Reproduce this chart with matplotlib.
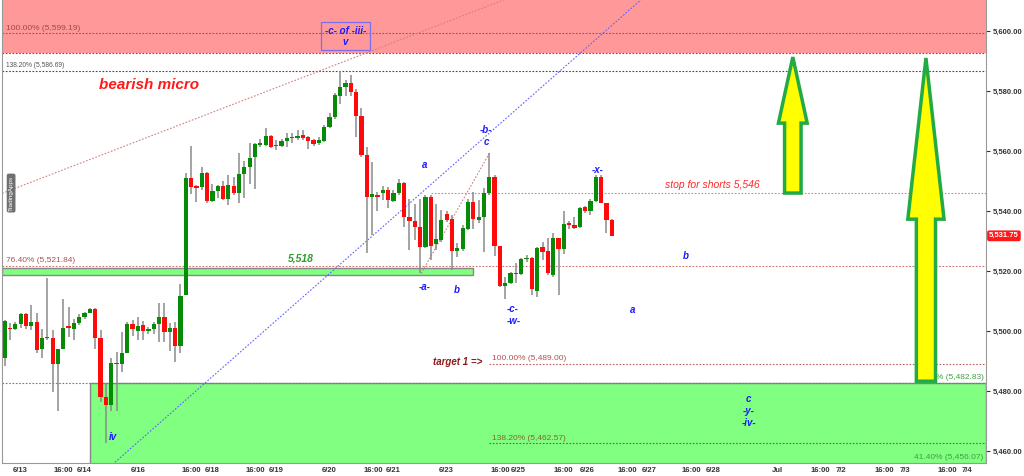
import numpy as np
import matplotlib
matplotlib.use("Agg")
import matplotlib.pyplot as plt
from matplotlib.patches import Rectangle, Polygon

plt.rcParams['font.family'] = ['Liberation Sans', 'DejaVu Sans']

# 2h candles (open, high, low, close)
opens = [5491.2, 5501.0, 5500.7, 5502.3, 5505.7, 5501.7, 5503.0, 5493.9, 5497.6, 5497.6,
         5489.2, 5494.2, 5501.7, 5500.6, 5502.6, 5504.6, 5506.1, 5507.2, 5497.6, 5478.1,
         5475.3, 5489.4, 5489.0, 5492.8, 5502.3, 5500.1, 5502.0, 5500.1, 5500.6, 5502.3,
         5504.6, 5499.7, 5501.2, 5495.0, 5512.0, 5550.9, 5548.0, 5548.1, 5552.8, 5543.4,
         5546.7, 5548.3, 5544.0, 5548.3, 5546.1, 5552.3, 5554.6, 5557.9, 5562.0, 5562.0,
         5565.0, 5561.6, 5561.7, 5563.4, 5564.2, 5564.2, 5565.3, 5564.6, 5563.7, 5562.6,
         5563.3, 5567.9, 5571.2, 5578.3, 5581.2, 5582.8, 5579.8, 5571.7, 5558.7, 5544.8,
         5545.3, 5545.9, 5547.0, 5543.4, 5545.9, 5549.4, 5538.1, 5536.8, 5534.6, 5527.9,
         5544.8, 5529.0, 5530.3, 5539.0, 5537.2, 5526.8, 5527.2, 5533.9, 5543.1, 5537.0,
         5537.9, 5545.9, 5551.4, 5528.3, 5515.0, 5515.9, 5519.4, 5519.0, 5524.0, 5524.2,
         5513.4, 5527.9, 5526.8, 5518.7, 5530.9, 5527.2, 5535.9, 5535.3, 5534.6, 5541.2,
         5540.1, 5543.4, 5551.4, 5542.8, 5537.0]
highs = [5503.7, 5502.6, 5503.1, 5506.1, 5506.1, 5508.7, 5505.9, 5500.6, 5517.6, 5500.3,
         5493.9, 5510.6, 5507.9, 5503.9, 5505.7, 5506.4, 5507.6, 5507.6, 5500.3, 5482.6,
         5490.9, 5493.1, 5499.8, 5503.1, 5503.7, 5504.6, 5503.3, 5501.4, 5503.1, 5509.4,
         5509.2, 5502.6, 5503.1, 5515.6, 5552.6, 5561.7, 5548.7, 5554.8, 5553.1, 5549.0,
         5548.7, 5550.1, 5552.0, 5551.4, 5559.2, 5556.8, 5562.8, 5562.8, 5563.9, 5567.6,
         5565.3, 5563.7, 5563.9, 5565.9, 5565.9, 5567.0, 5567.0, 5565.0, 5563.9, 5564.6,
         5568.7, 5572.8, 5579.2, 5586.7, 5583.7, 5585.3, 5580.6, 5574.2, 5561.2, 5556.4,
         5546.4, 5548.3, 5548.1, 5547.0, 5550.6, 5549.8, 5543.9, 5542.3, 5543.9, 5545.3,
         5545.3, 5542.3, 5540.3, 5540.1, 5538.7, 5529.2, 5535.3, 5543.9, 5546.4, 5543.7,
         5547.6, 5559.2, 5552.0, 5528.3, 5517.9, 5519.8, 5522.6, 5524.2, 5525.3, 5524.8,
         5527.9, 5529.8, 5530.9, 5532.8, 5530.9, 5540.1, 5536.8, 5538.1, 5541.2, 5541.7,
         5543.9, 5552.0, 5552.0, 5542.8, 5537.2]
lows = [5488.4, 5497.0, 5500.3, 5500.9, 5500.6, 5500.3, 5492.8, 5490.9, 5497.0, 5479.8,
        5473.4, 5493.9, 5498.1, 5497.0, 5502.0, 5503.9, 5505.9, 5494.2, 5476.4, 5462.7,
        5473.4, 5473.4, 5486.4, 5492.6, 5498.3, 5497.0, 5497.0, 5499.2, 5499.2, 5496.4,
        5496.4, 5493.3, 5489.8, 5492.8, 5512.0, 5545.7, 5543.1, 5547.0, 5542.6, 5543.1,
        5544.2, 5543.7, 5542.0, 5545.3, 5542.8, 5544.2, 5549.0, 5547.2, 5561.2, 5561.7,
        5560.9, 5560.3, 5561.2, 5561.2, 5562.6, 5563.7, 5563.7, 5560.6, 5561.7, 5562.0,
        5563.1, 5567.6, 5570.6, 5575.7, 5578.3, 5578.3, 5564.6, 5558.1, 5526.1, 5532.0,
        5540.1, 5543.7, 5540.9, 5543.1, 5545.3, 5534.6, 5527.0, 5530.3, 5519.2, 5527.6,
        5523.7, 5527.0, 5529.8, 5536.4, 5520.3, 5524.8, 5526.8, 5533.7, 5533.9, 5536.1,
        5526.4, 5545.3, 5525.0, 5514.8, 5510.6, 5515.7, 5515.9, 5518.7, 5523.1, 5512.0,
        5511.4, 5523.7, 5518.7, 5518.1, 5512.0, 5525.7, 5533.9, 5533.9, 5534.2, 5539.2,
        5538.7, 5543.1, 5542.8, 5532.8, 5531.6]
closes = [5503.4, 5500.7, 5502.3, 5505.7, 5501.7, 5503.0, 5493.7, 5497.6, 5497.7, 5489.2,
          5493.9, 5501.2, 5501.2, 5502.8, 5504.8, 5506.1, 5507.2, 5497.6, 5478.1, 5475.3,
          5489.4, 5489.1, 5492.8, 5502.3, 5500.6, 5501.7, 5500.1, 5500.6, 5502.3, 5504.6,
          5499.6, 5501.2, 5495.0, 5511.7, 5550.9, 5547.9, 5547.8, 5552.8, 5543.4, 5546.7,
          5548.3, 5544.0, 5548.7, 5545.9, 5552.3, 5554.8, 5557.6, 5562.3, 5562.6, 5565.0,
          5561.4, 5561.7, 5563.3, 5564.2, 5564.4, 5565.0, 5564.2, 5563.4, 5562.3, 5563.7,
          5567.9, 5571.4, 5578.6, 5581.2, 5582.8, 5579.8, 5571.7, 5558.7, 5544.8, 5545.7,
          5544.6, 5547.0, 5543.7, 5545.9, 5549.4, 5538.1, 5536.8, 5534.8, 5527.9, 5544.6,
          5528.3, 5530.6, 5537.0, 5537.0, 5526.8, 5527.6, 5534.2, 5543.1, 5537.2, 5538.1,
          5545.9, 5551.4, 5528.3, 5515.0, 5515.9, 5519.4, 5519.0, 5523.9, 5524.2, 5513.9,
          5527.6, 5526.4, 5519.2, 5530.9, 5527.2, 5535.7, 5535.3, 5534.2, 5540.9, 5540.1,
          5543.4, 5551.4, 5542.8, 5537.0, 5531.75]

tick_pos = [3, 11, 15, 25, 35, 39, 47, 51, 61, 69.2, 73, 83, 93, 96.4, 104.9, 109.3,
            117, 121.1, 129, 133.1, 145.1, 153.2, 157, 165.2, 169, 177, 180.7]
tick_lbl = ['6/13', '16:00', '6/14', '6/16', '16:00', '6/18', '16:00', '6/19', '6/20',
            '16:00', '6/21', '6/23', '16:00', '6/25', '16:00', '6/26', '16:00', '6/27',
            '16:00', '6/28', 'Jul', '16:00', '7/2', '16:00', '7/3', '16:00', '7/4']

# levels
red_zone_low = 5592.7
fib_top = 5599.19
fib_1382 = 5586.69
fib_764 = 5521.84
band_lo, band_hi = 5518.6, 5520.9
stop = 5546.0
target1 = 5489.00
fib_1382b = 5462.57
fib_382 = 5482.83
fib_414 = 5456.07
last = 5531.75

ylo, yhi = 5456.0, 5610.33
xlo, xhi = -0.5, 184.3

fig = plt.figure(figsize=(10.24, 4.76), dpi=100)
ax = fig.add_axes([0.002, 0.027, 0.961, 0.973])
ax.set_xlim(xlo, xhi)
ax.set_ylim(ylo, yhi)

# zones
ax.add_patch(Rectangle((xlo, red_zone_low), xhi - xlo, yhi - red_zone_low,
                       facecolor='#ff9999', edgecolor='none', zorder=0))
ax.axhline(red_zone_low, color='#555555', ls=(0, (1.5, 1.5)), lw=0.8, zorder=1)
ax.add_patch(Rectangle((16.0, ylo - 5), xhi - 16.0, fib_382 - ylo + 5,
                       facecolor='#80ff80', edgecolor='#888888', lw=1.0, zorder=0))
ax.add_patch(Rectangle((xlo, band_lo), 88.0 - xlo, band_hi - band_lo,
                       facecolor='#80ff80', edgecolor='#888888', lw=1.0, zorder=1))

# horizontal fib / level lines
dot = (0, (1.5, 1.5))
ax.axhline(fib_top, color='#a05050', ls=dot, lw=0.8, zorder=1)
ax.axhline(fib_1382, color='#444444', ls=dot, lw=0.8, zorder=1)
ax.axhline(fib_764, color='#d07070', ls=dot, lw=0.8, zorder=1)
ax.axhline(fib_382, color='#40a040', ls=dot, lw=0.8, zorder=1)
ax.hlines(stop, 80.1, xhi, color='#e08080', ls=dot, lw=0.8, zorder=1)
ax.hlines(target1, 90.9, xhi, color='#c06060', ls=dot, lw=0.8, zorder=1)
ax.hlines(fib_1382b, 90.9, xhi, color='#806030', ls=dot, lw=0.8, zorder=1)

# trend lines
tx = np.array([xlo, 230.0])
ax.plot(tx, 5545.9 + (tx - xlo) * 0.684, color='#d08080', ls=dot, lw=0.8, zorder=1)
bx = np.array([20.7, 125.0])
ax.plot(bx, 5456.3 + (bx - 20.7) * 1.56, color='#6060ff', ls=dot, lw=0.8, zorder=1)
ax.plot([78.2, 91.0], [5519.2, 5559.2], color='#d08080', ls=dot, lw=0.8, zorder=1)

# candles
idx = np.arange(len(opens))
o = np.array(opens); c = np.array(closes)
up = c >= o
ax.vlines(idx, lows, highs, color='#8a8a8a', lw=1.1, zorder=2)
bottom = np.minimum(o, c)
height = np.maximum(np.abs(c - o), 0.4)
ax.bar(idx, height, bottom=bottom, width=0.8,
       color=np.where(up, '#078a07', '#ff0a0a'), edgecolor='none', zorder=3)

# arrows
def up_arrow(xc, sw, hw, tip, base, foot):
    pts = [(xc - sw, foot), (xc - sw, base), (xc - hw, base), (xc, tip),
           (xc + hw, base), (xc + sw, base), (xc + sw, foot)]
    ax.add_patch(Polygon(pts, closed=True, facecolor='#ffff00', edgecolor='#22aa44',
                         lw=2.5, joinstyle='miter', zorder=4))

up_arrow(148.0, 1.55, 2.7, 5591.3, 5569.3, stop)
up_arrow(173.0, 1.8, 3.4, 5591.0, 5537.3, 5483.3)

# level labels
lab = dict(fontsize=6, zorder=3.5)
ax.text(0.3, fib_top + 0.6, '100.00% (5,599.19)', color='#a04848', va='bottom', **lab)
ax.text(0.3, fib_1382 + 0.5, '138.20% (5,586.69)', color='#555555', va='bottom',
        fontsize=4.8, zorder=3.5)
ax.text(0.3, fib_764 + 0.6, '76.40% (5,521.84)', color='#b05050', va='bottom', **lab)
ax.text(91.5, target1 + 0.6, '100.00% (5,489.00)', color='#b05050', va='bottom', **lab)
ax.text(91.5, fib_1382b + 0.6, '138.20% (5,462.57)', color='#7a6a30', va='bottom', **lab)
ax.text(183.8, fib_382 + 0.6, '38.20% (5,482.83)', color='#40a040', va='bottom',
        ha='right', **lab)
ax.text(183.8, fib_414 + 0.8, '41.40% (5,456.07)', color='#40a040', va='bottom',
        ha='right', **lab)

ax.text(27.2, 5582.0, 'bearish micro', color='#ff1a1a', fontsize=11,
        fontweight='bold', style='italic', ha='center', va='center', zorder=5)
ax.text(55.7, 5524.3, '5,518', color='#2e9a2e', fontsize=7.5, fontweight='bold',
        style='italic', ha='center', va='center', zorder=5)
ax.text(132.9, 5548.7, 'stop for shorts 5,546', color='#ff2a2a', fontsize=7.5,
        style='italic', ha='center', va='center', zorder=5)
ax.text(85.1, 5489.7, 'target 1 =>', color='#8b1a1a', fontsize=7, fontweight='bold',
        style='italic', ha='center', va='center', zorder=5)

# wave labels
wave = dict(color='#1a1aff', fontsize=7, fontweight='bold', style='italic',
            ha='center', va='center', zorder=5)
ax.text(64.0, 5598.3, '-c- of -iii-\nv', linespacing=1.1,
        bbox=dict(boxstyle='square,pad=0.35', facecolor='none', edgecolor='#7b6cf0', lw=0.9),
        **wave)
for x, y, s in [(20.3, 5464.7, 'iv'), (78.9, 5555.3, 'a'), (90.4, 5567.0, '-b-'),
                (90.4, 5563.0, 'c'), (78.8, 5514.7, '-a-'), (84.9, 5513.7, 'b'),
                (95.4, 5507.3, '-c-'), (95.6, 5503.3, '-w-'), (111.4, 5553.7, '-x-'),
                (117.9, 5507.0, 'a'), (127.9, 5525.0, 'b'), (139.7, 5477.3, 'c'),
                (139.7, 5473.3, '-y-'), (139.7, 5469.3, '-iv-')]:
    ax.text(x, y, s, **wave)

# watermark
ax.text(1.2, 5546.0, 'TradingApps', rotation=90, color='white', fontsize=4.5,
        ha='center', va='center', zorder=6,
        bbox=dict(boxstyle='round,pad=0.3', facecolor='#707070', edgecolor='none'))

# axes styling
ax.yaxis.tick_right()
ax.set_yticks(np.arange(5460, 5601, 20))
ax.set_yticklabels(['{:,.2f}'.format(v) for v in np.arange(5460, 5601, 20)])
ax.tick_params(axis='y', labelsize=5.5, colors='#333333', length=3, pad=1.5)
for t in ax.get_yticklabels():
    t.set_fontweight('bold')
ax.set_xticks(tick_pos)
ax.set_xticklabels(tick_lbl)
ax.tick_params(axis='x', labelsize=5.5, colors='#333333', length=0, pad=3)
for t in ax.get_xticklabels():
    t.set_fontweight('bold')
for s in ['left', 'right', 'bottom']:
    ax.spines[s].set_color('#999999')
ax.spines['top'].set_visible(False)

ax.text(1.003, last, '5,531.75', transform=ax.get_yaxis_transform(), color='white',
        fontsize=5.5, fontweight='bold', va='center', ha='left', zorder=7, clip_on=False,
        bbox=dict(boxstyle='round,pad=0.25', facecolor='#ff1a1a', edgecolor='none'))

fig.savefig('out.png', dpi=100)
